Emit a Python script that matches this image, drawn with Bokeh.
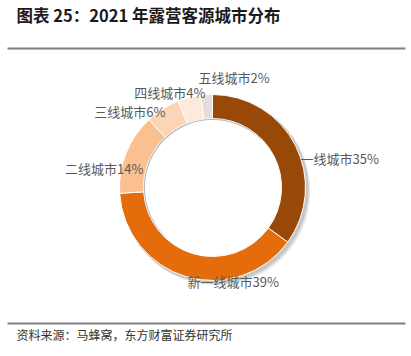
import numpy as np
from bokeh.plotting import figure
from bokeh.models import Range1d, ColumnDataSource
from bokeh.core.properties import value
from bokeh.embed import file_html
from bokeh.resources import INLINE

# ---- data ----
cities = ["一线城市", "新一线城市", "二线城市", "三线城市", "四线城市", "五线城市"]
shares = [35, 39, 14, 6, 4, 2]
colors = ["#984807", "#E46C0A", "#FAC090", "#FBD5B5", "#FDEADA", "#E6DCDA"]
title = "图表 25：2021 年露营客源城市分布"
source_note = "资料来源：马蜂窝，东方财富证券研究所"

# ---- layout (pixel coords, y measured from top) ----
W, H = 411, 356
cx, cy = 212, 187
r_out, r_in = 93, 69
label_pos = [(300, 158, "left"), (187, 281, "left"), (143, 168, "right"),
             (165, 111, "right"), (205, 92, "right"), (198, 77, "left")]

def Y(y):
    return H - y

p = figure(width=W, height=H, output_backend="svg", toolbar_location=None,
           x_range=Range1d(0, W), y_range=Range1d(0, H), min_border=0)
p.axis.visible = False
p.grid.visible = False
p.outline_line_color = None
p.background_fill_color = "white"
p.border_fill_color = "white"

vals = np.array(shares, dtype=float)
frac = vals / vals.sum()
cum = np.concatenate([[0], np.cumsum(frac)])
start = np.pi / 2 - cum[:-1] * 2 * np.pi
end = np.pi / 2 - cum[1:] * 2 * np.pi

src = ColumnDataSource(dict(start=start, end=end, color=colors, city=cities,
                            x=[cx] * len(cities), y=[Y(cy)] * len(cities)))

# soft shadow
for off, a in [(4, 0.06), (3, 0.08), (2, 0.10)]:
    p.annular_wedge(x=cx + off, y=Y(cy) - off, inner_radius=r_in, outer_radius=r_out + 1,
                    start_angle=0, end_angle=2 * np.pi, fill_color="#000000",
                    fill_alpha=a, line_color=None)
p.annular_wedge(x="x", y="y", inner_radius=r_in, outer_radius=r_out,
                start_angle="start", end_angle="end", direction="clock",
                fill_color="color", line_color="white", line_width=1, source=src)
# inner shadow hint
p.annular_wedge(x=cx, y=Y(cy), inner_radius=r_in - 2, outer_radius=r_in,
                start_angle=np.pi * 0.25, end_angle=np.pi * 1.25,
                fill_color="#000000", fill_alpha=0.08, line_color=None)
p.circle(x=cx, y=Y(cy), radius=r_in - 1.5, fill_color="white", line_color=None)

# labels
for (lx, ly, al), c, s in zip(label_pos, cities, shares):
    p.text(x=[lx], y=[Y(ly)], text=[f"{c}{s}%"], text_align=al,
           text_baseline="middle", text_font=value("Noto Sans CJK SC"),
           text_font_size="13px", text_color="#595959")

# title
p.text(x=[16], y=[Y(14)], text=[title], text_align="left", text_baseline="middle",
       text_font=value("Noto Sans CJK SC"), text_font_style="bold",
       text_font_size="16.5px", text_color="#1a1a1a")
p.segment(x0=[7], y0=[Y(48)], x1=[405], y1=[Y(48)], line_color="#7f7f7f", line_width=2)
p.segment(x0=[7], y0=[Y(323)], x1=[405], y1=[Y(323)], line_color="#7f7f7f", line_width=2)
p.text(x=[16], y=[Y(334)], text=[source_note], text_align="left", text_baseline="middle",
       text_font=value("Noto Sans CJK SC"), text_font_size="12px", text_color="#333333")

open("out.html", "w").write(file_html(p, INLINE))
